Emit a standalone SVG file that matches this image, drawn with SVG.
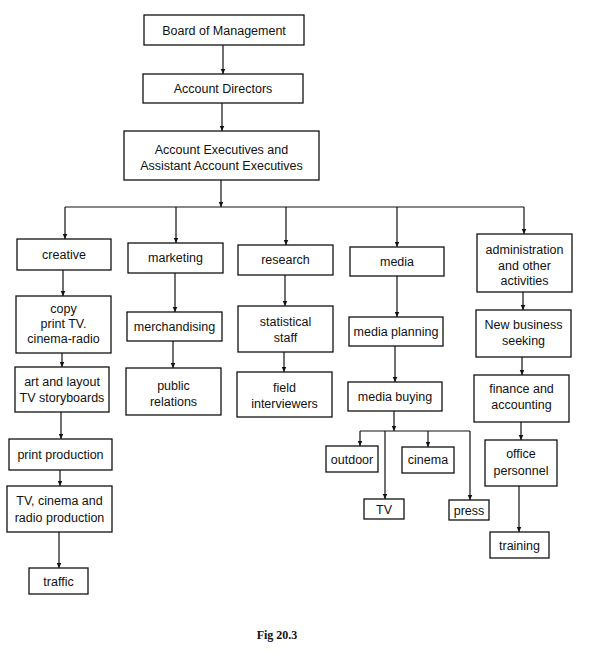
<svg xmlns="http://www.w3.org/2000/svg" width="590" height="671" viewBox="0 0 590 671">
<defs>
<style>
.box{fill:#fff;stroke:#111;stroke-width:1.3}
.t{font-family:"Liberation Sans",Arial,sans-serif;font-size:12.5px;fill:#111;text-anchor:middle}
.c{fill:none;stroke:#111;stroke-width:1.2}
.a{marker-end:url(#ah)}
.fig{font-family:"Liberation Serif","Times New Roman",serif;font-size:12px;font-weight:bold;fill:#111;text-anchor:middle}
</style>
<marker id="ah" viewBox="0 0 6 6" refX="6" refY="3" markerWidth="5" markerHeight="5.5" markerUnits="userSpaceOnUse" orient="auto">
<path d="M0,0.3 L6,3 L0,5.7 z" fill="#111"/>
</marker>
</defs>
<rect width="590" height="671" fill="#fff"/>
<g id="connectors">
<line class="c a" x1="223" y1="45" x2="223" y2="74"/>
<line class="c a" x1="222" y1="103" x2="222" y2="131"/>
<line class="c a" x1="221" y1="180" x2="221" y2="207"/>
<line class="c" x1="65" y1="207" x2="524" y2="207"/>
<line class="c a" x1="65" y1="207" x2="65" y2="239"/>
<line class="c a" x1="176" y1="207" x2="176" y2="243"/>
<line class="c a" x1="286" y1="207" x2="286" y2="245"/>
<line class="c a" x1="397" y1="207" x2="397" y2="247"/>
<line class="c a" x1="524" y1="207" x2="524" y2="234"/>
<line class="c a" x1="63" y1="270" x2="63" y2="296"/>
<line class="c a" x1="62" y1="353" x2="62" y2="367"/>
<line class="c a" x1="61" y1="412" x2="61" y2="439"/>
<line class="c a" x1="60" y1="470" x2="60" y2="486"/>
<line class="c a" x1="59" y1="532" x2="59" y2="568"/>
<line class="c a" x1="175" y1="273" x2="175" y2="312"/>
<line class="c a" x1="173" y1="341" x2="173" y2="368"/>
<line class="c a" x1="285" y1="275" x2="285" y2="306"/>
<line class="c a" x1="284" y1="352" x2="284" y2="372"/>
<line class="c a" x1="397" y1="276" x2="397" y2="317"/>
<line class="c a" x1="395" y1="346" x2="395" y2="382"/>
<line class="c a" x1="394" y1="411" x2="394" y2="431"/>
<line class="c" x1="360" y1="431" x2="470" y2="431"/>
<line class="c a" x1="360" y1="431" x2="360" y2="446"/>
<line class="c a" x1="385" y1="431" x2="385" y2="499"/>
<line class="c a" x1="428" y1="431" x2="428" y2="447"/>
<line class="c a" x1="470" y1="431" x2="470" y2="500"/>
<line class="c a" x1="523" y1="292" x2="523" y2="310"/>
<line class="c a" x1="522" y1="357" x2="522" y2="375"/>
<line class="c a" x1="521" y1="422" x2="521" y2="440"/>
<line class="c a" x1="519" y1="486" x2="519" y2="532"/>
</g>
<g id="board"><rect class="box" x="144" y="15" width="160" height="30"/><text class="t" x="224" y="34.5">Board of Management</text></g>
<g id="directors"><rect class="box" x="143" y="74" width="160" height="29"/><text class="t" x="223" y="93">Account Directors</text></g>
<g id="executives"><rect class="box" x="124" y="131" width="195" height="49"/><text class="t" x="221.5" y="154">Account Executives and</text><text class="t" x="221.5" y="170">Assistant Account Executives</text></g>
<g id="creative"><rect class="box" x="17" y="239" width="94" height="31"/><text class="t" x="64" y="259">creative</text></g>
<g id="marketing"><rect class="box" x="128" y="243" width="95" height="30"/><text class="t" x="175.5" y="262">marketing</text></g>
<g id="research"><rect class="box" x="238" y="245" width="95" height="30"/><text class="t" x="285.5" y="264">research</text></g>
<g id="media"><rect class="box" x="350" y="247" width="94" height="29"/><text class="t" x="397" y="266">media</text></g>
<g id="admin"><rect class="box" x="477" y="234" width="95" height="58"/><text class="t" x="524.5" y="254">administration</text><text class="t" x="524.5" y="270">and other</text><text class="t" x="524.5" y="285">activities</text></g>
<g id="copy"><rect class="box" x="16" y="296" width="95" height="57"/><text class="t" x="63.5" y="313">copy</text><text class="t" x="63.5" y="328">print TV.</text><text class="t" x="63.5" y="343">cinema-radio</text></g>
<g id="merchandising"><rect class="box" x="127" y="312" width="95" height="29"/><text class="t" x="174.5" y="331">merchandising</text></g>
<g id="statistical"><rect class="box" x="238" y="306" width="95" height="46"/><text class="t" x="285.5" y="326">statistical</text><text class="t" x="285.5" y="342">staff</text></g>
<g id="planning"><rect class="box" x="349" y="317" width="94" height="29"/><text class="t" x="396" y="336">media planning</text></g>
<g id="newbusiness"><rect class="box" x="476" y="310" width="95" height="47"/><text class="t" x="523.5" y="329">New business</text><text class="t" x="523.5" y="345">seeking</text></g>
<g id="art"><rect class="box" x="15" y="367" width="94" height="45"/><text class="t" x="62" y="386">art and layout</text><text class="t" x="62" y="402">TV storyboards</text></g>
<g id="public"><rect class="box" x="126" y="368" width="95" height="47"/><text class="t" x="173.5" y="390">public</text><text class="t" x="173.5" y="406">relations</text></g>
<g id="field"><rect class="box" x="237" y="372" width="95" height="45"/><text class="t" x="284.5" y="392">field</text><text class="t" x="284.5" y="408">interviewers</text></g>
<g id="buying"><rect class="box" x="348" y="382" width="94" height="29"/><text class="t" x="395" y="401">media buying</text></g>
<g id="finance"><rect class="box" x="474" y="375" width="95" height="47"/><text class="t" x="521.5" y="393">finance and</text><text class="t" x="521.5" y="409">accounting</text></g>
<g id="print"><rect class="box" x="9" y="439" width="103" height="31"/><text class="t" x="60.5" y="459">print production</text></g>
<g id="office"><rect class="box" x="485" y="440" width="72" height="46"/><text class="t" x="521" y="458">office</text><text class="t" x="521" y="475">personnel</text></g>
<g id="outdoor"><rect class="box" x="326" y="446" width="52" height="26"/><text class="t" x="352" y="464">outdoor</text></g>
<g id="cinema"><rect class="box" x="402" y="447" width="52" height="26"/><text class="t" x="428" y="464">cinema</text></g>
<g id="tvradio"><rect class="box" x="7" y="486" width="105" height="46"/><text class="t" x="59.5" y="505">TV, cinema and</text><text class="t" x="59.5" y="522">radio production</text></g>
<g id="tv"><rect class="box" x="364" y="499" width="40" height="20"/><text class="t" x="384" y="513.5">TV</text></g>
<g id="press"><rect class="box" x="449" y="500" width="40" height="20"/><text class="t" x="469" y="514.5">press</text></g>
<g id="training"><rect class="box" x="490" y="532" width="59" height="26"/><text class="t" x="519.5" y="549.5">training</text></g>
<g id="traffic"><rect class="box" x="29" y="568" width="59" height="26"/><text class="t" x="58.5" y="585.5">traffic</text></g>
<text class="fig" x="277" y="639">Fig 20.3</text>
</svg>
